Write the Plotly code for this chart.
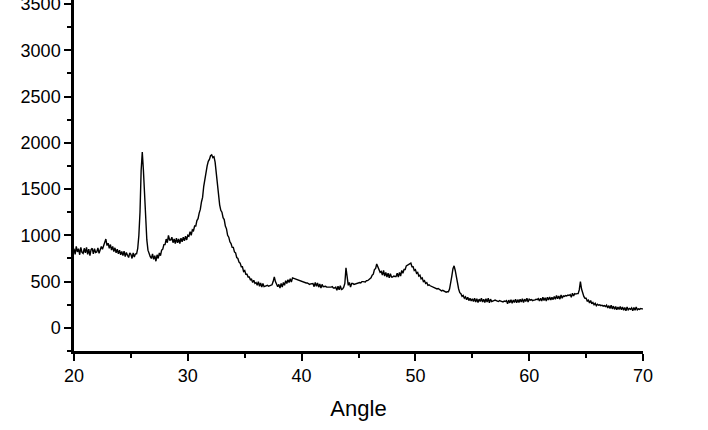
import numpy as np
import plotly.graph_objects as go

# 2-theta grid of the scan: 20.0 .. 70.0 deg, step 0.1
angle_start = 20.0
angle_step = 0.1

# intensity, one row per degree (20.x, 21.x, ...)
intensity = [
    855, 795, 880, 820, 855, 790, 870, 815, 805, 860,      # 20
    810, 870, 795, 850, 780, 845, 860, 800, 855, 815,      # 21
    820, 865, 805, 855, 880, 850, 890, 905, 960, 890,      # 22
    915, 860, 900, 840, 880, 825, 865, 810, 850, 800,      # 23
    840, 790, 825, 780, 830, 770, 815, 785, 760, 810,      # 24
    795, 750, 810, 765, 800, 800, 860, 1000, 1250, 1700,   # 25
    1900, 1700, 1400, 1150, 950, 840, 800, 770, 750, 800,  # 26
    740, 780, 720, 790, 750, 810, 780, 840, 850, 900,      # 27
    900, 960, 920, 1000, 950, 950, 980, 920, 960, 910,     # 28
    970, 920, 960, 910, 970, 930, 980, 940, 990, 950,      # 29
    1000, 990, 1040, 1000, 1060, 1050, 1100, 1100, 1160, 1180,  # 30
    1240, 1280, 1360, 1410, 1530, 1610, 1710, 1750, 1800, 1820,  # 31
    1860, 1870, 1840, 1850, 1790, 1670, 1560, 1390, 1330, 1270,  # 32
    1250, 1190, 1170, 1100, 1070, 1000, 980, 930, 910, 870,  # 33
    870, 820, 810, 760, 750, 710, 700, 660, 660, 610,      # 34
    620, 580, 580, 550, 550, 520, 525, 490, 515, 480,      # 35
    490, 460, 500, 450, 485, 440, 480, 445, 450, 455,      # 36
    460, 450, 455, 460, 465, 500, 550, 500, 480, 445,      # 37
    470, 430, 480, 440, 490, 460, 510, 480, 520, 490,      # 38
    530, 495, 540, 535, 530, 530, 520, 520, 510, 505,      # 39
    500, 500, 495, 490, 485, 485, 480, 470, 475, 480,      # 40
    480, 445, 490, 450, 485, 440, 475, 430, 470, 445,      # 41
    450, 450, 440, 440, 435, 435, 440, 445, 430, 430,      # 42
    440, 405, 450, 410, 455, 415, 420, 440, 480, 650,      # 43
    560, 460, 490, 440, 480, 480, 470, 475, 480, 485,      # 44
    490, 490, 485, 500, 500, 495, 495, 510, 510, 520,      # 45
    530, 540, 570, 580, 630, 640, 690, 660, 650, 600,      # 46
    610, 570, 620, 560, 600, 550, 590, 540, 585, 550,      # 47
    550, 560, 555, 555, 590, 550, 600, 560, 620, 590,      # 48
    630, 630, 670, 680, 690, 700, 700, 660, 660, 620,      # 49
    630, 590, 600, 560, 570, 530, 540, 500, 510, 480,      # 50
    490, 460, 465, 455, 450, 440, 440, 430, 430, 420,      # 51
    425, 415, 410, 400, 405, 395, 395, 385, 390, 390,      # 52
    420, 480, 560, 640, 670, 620, 540, 470, 420, 380,      # 53
    370, 340, 350, 320, 335, 305, 330, 295, 320, 290,      # 54
    315, 285, 320, 280, 315, 275, 310, 285, 320, 280,      # 55
    310, 275, 315, 280, 320, 270, 310, 285, 295, 295,      # 56
    300, 290, 290, 285, 295, 290, 285, 280, 290, 285,      # 57
    295, 260, 300, 270, 305, 265, 300, 275, 310, 270,      # 58
    305, 275, 310, 280, 315, 275, 310, 285, 320, 280,      # 59
    310, 300, 305, 295, 300, 300, 310, 305, 315, 290,      # 60
    320, 290, 330, 295, 325, 290, 330, 300, 335, 300,      # 61
    330, 305, 340, 310, 350, 315, 345, 310, 355, 320,      # 62
    345, 340, 350, 345, 355, 350, 360, 330, 375, 345,      # 63
    370, 365, 370, 370, 410, 500, 420, 370, 340, 320,      # 64
    320, 290, 300, 270, 295, 260, 275, 250, 265, 240,      # 65
    255, 245, 250, 240, 245, 235, 240, 230, 245, 215,      # 66
    240, 210, 245, 205, 235, 200, 230, 195, 225, 200,      # 67
    230, 195, 225, 190, 220, 185, 225, 195, 210, 200,      # 68
    215, 185, 220, 190, 225, 195, 205, 200, 210, 205,      # 69
    205,                                                   # 70
]

angle = angle_start + angle_step * np.arange(len(intensity))

x_ticks = [20, 30, 40, 50, 60, 70]
y_ticks = [0, 500, 1000, 1500, 2000, 2500, 3000, 3500]

fig = go.Figure()
fig.add_trace(go.Scatter(
    x=angle,
    y=intensity,
    mode='lines',
    line=dict(color='black', width=1.4),
    showlegend=False
))

font = dict(family='Arial, Liberation Sans, sans-serif', color='black', size=18)

fig.update_layout(
    width=708, height=430,
    margin=dict(l=74, r=65, t=0, b=79),
    paper_bgcolor='white', plot_bgcolor='white',
    font=font,
    xaxis=dict(
        range=[20, 70],
        tickvals=x_ticks,
        ticks='outside', ticklen=7, tickwidth=1.5, tickcolor='black',
        minor=dict(dtick=5, tick0=20, ticks='outside', ticklen=4, tickwidth=1.5, tickcolor='black'),
        showline=True, linecolor='black', linewidth=2.5,
        showgrid=False, zeroline=False,
        title=dict(text='Angle', font=dict(size=22), standoff=16),
        ticklabeloverflow='allow',
        automargin=False,
    ),
    yaxis=dict(
        range=[-250, 3543],
        tickvals=y_ticks,
        ticks='outside', ticklen=7, tickwidth=1.5, tickcolor='black',
        minor=dict(dtick=250, tick0=0, ticks='outside', ticklen=4, tickwidth=1.5, tickcolor='black'),
        showline=True, linecolor='black', linewidth=2.5,
        showgrid=False, zeroline=False,
        ticklabeloverflow='allow',
        automargin=False,
    ),
)

# drop the default page margin so the figure sits at the window's corner
fig.write_html("out.html", config={'displayModeBar': False},
               post_script="document.body.style.margin='0';")
